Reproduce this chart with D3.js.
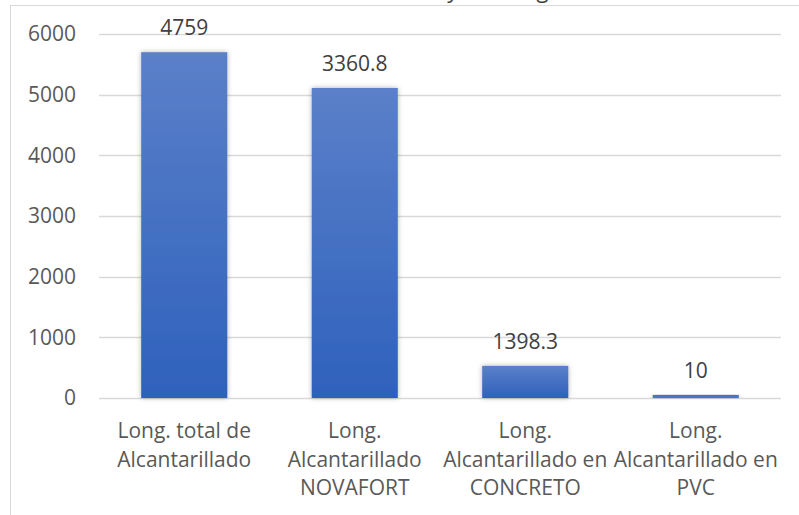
<!DOCTYPE html>
<html>
<head>
<meta charset="utf-8">
<script src="https://cdn.jsdelivr.net/npm/d3@7"></script>
<style>
  body { margin: 0; background: #fff; }
  svg { display: block; font-family: "Open Sans", "DejaVu Sans", sans-serif; }
</style>
</head>
<body>
<div id="chart"></div>
<script>
// chart values
var categories = [
    ["Long. total de", "Alcantarillado"],
    ["Long.", "Alcantarillado", "NOVAFORT"],
    ["Long.", "Alcantarillado en", "CONCRETO"],
    ["Long.", "Alcantarillado en", "PVC"]
];
var barValues = [5700, 5110, 530, 50];
var dataLabels = ["4759", "3360.8", "1398.3", "10"];
var yTicks = [0, 1000, 2000, 3000, 4000, 5000, 6000];
var titleText = "Tramos de alcantarillado y sus longitudes";

var width = 799, height = 515;
var margin = {top: 34, right: 18, bottom: 117, left: 99};

var svg = d3.select("#chart").append("svg")
    .attr("width", width)
    .attr("height", height);

var defs = svg.append("defs");
var grad = defs.append("linearGradient")
    .attr("id", "barGrad")
    .attr("x1", 0).attr("y1", 0).attr("x2", 0).attr("y2", 1);
grad.append("stop").attr("offset", "0%").attr("stop-color", "#5b80c9");
grad.append("stop").attr("offset", "100%").attr("stop-color", "#2e61bc");

var shadow = defs.append("filter")
    .attr("id", "shadow")
    .attr("x", "-20%").attr("y", "-20%").attr("width", "140%").attr("height", "140%");
shadow.append("feDropShadow")
    .attr("dx", 0).attr("dy", 0)
    .attr("stdDeviation", 2.5)
    .attr("flood-color", "#000")
    .attr("flood-opacity", 0.3);

// chart frame (cropped)
svg.append("rect")
    .attr("x", 10.5).attr("y", 5.5)
    .attr("width", width + 10).attr("height", height + 10)
    .attr("fill", "none")
    .attr("stroke", "#d9d9d9")
    .attr("stroke-width", 1);

// title, mostly cut off at the top like in the source picture
svg.append("text")
    .attr("x", 400)
    .attr("y", -2)
    .attr("text-anchor", "middle")
    .attr("font-size", 22)
    .attr("fill", "#404040")
    .text(titleText);

var x = d3.scaleBand()
    .domain(d3.range(categories.length))
    .range([margin.left, width - margin.right])
    .paddingInner(0.495)
    .paddingOuter(0.2475);

var y = d3.scaleLinear()
    .domain([0, 6000])
    .range([height - margin.bottom, margin.top]);

// gridlines
svg.append("g")
    .selectAll("line")
    .data(yTicks)
    .enter()
    .append("line")
    .attr("x1", margin.left)
    .attr("x2", width - margin.right)
    .attr("y1", function(d) { return Math.round(y(d)) + 0.5; })
    .attr("y2", function(d) { return Math.round(y(d)) + 0.5; })
    .attr("stroke", "#d9d9d9")
    .attr("stroke-width", 1.3);

// y axis labels
var yAxis = d3.axisLeft(y).tickValues(yTicks).tickFormat(d3.format("d")).tickSize(0).tickPadding(0);
var gy = svg.append("g")
    .attr("transform", "translate(76,0)")
    .call(yAxis);
gy.select(".domain").remove();
gy.selectAll("text")
    .attr("font-family", "'Open Sans', sans-serif")
    .attr("font-size", 21)
    .attr("fill", "#595959");

// bars
svg.append("g")
    .selectAll("rect")
    .data(barValues)
    .enter()
    .append("rect")
    .attr("x", function(d, i) { return x(i); })
    .attr("y", function(d) { return y(d); })
    .attr("width", x.bandwidth())
    .attr("height", function(d) { return y(0) - y(d); })
    .attr("fill", function(d) { return d < 200 ? "#4a74c6" : "url(#barGrad)"; })
    .attr("filter", "url(#shadow)");

// value labels
svg.append("g")
    .selectAll("text")
    .data(barValues)
    .enter()
    .append("text")
    .attr("x", function(d, i) { return x(i) + x.bandwidth() / 2; })
    .attr("y", function(d) { return y(d) - 17; })
    .attr("text-anchor", "middle")
    .attr("font-size", 21)
    .attr("fill", "#404040")
    .text(function(d, i) { return dataLabels[i]; });

// category labels
var cat = svg.append("g")
    .selectAll("text")
    .data(categories)
    .enter()
    .append("text")
    .attr("text-anchor", "middle")
    .attr("font-size", 21)
    .attr("fill", "#595959");
cat.selectAll("tspan")
    .data(function(d, i) { return d.map(function(t) { return {t: t, i: i}; }); })
    .enter()
    .append("tspan")
    .attr("x", function(d) { return x(d.i) + x.bandwidth() / 2; })
    .attr("y", function(d, j) { return 438 + j * 28.5; })
    .text(function(d) { return d.t; });
</script>
</body>
</html>
